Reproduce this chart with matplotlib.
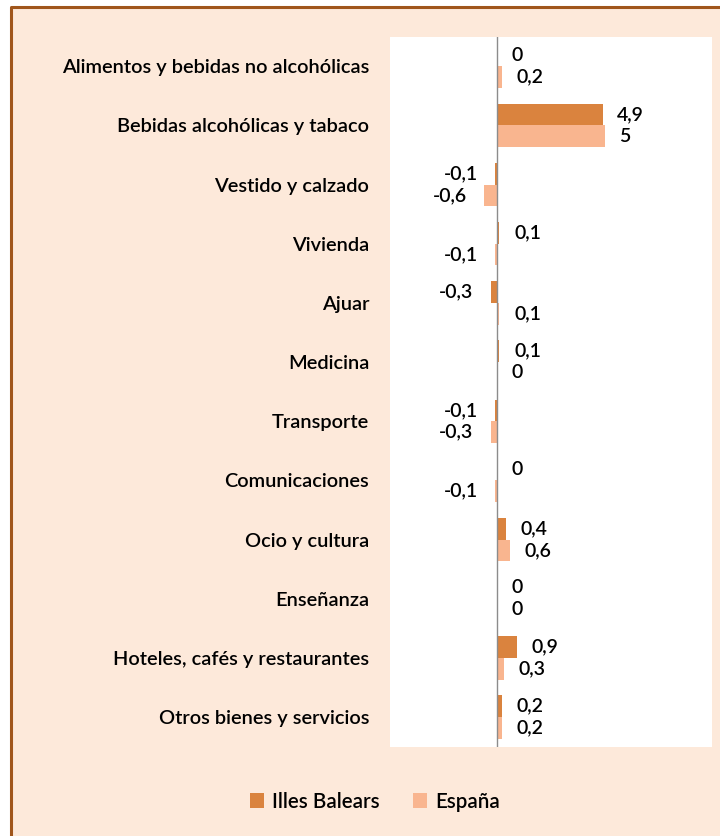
"""Variación de precios por grupos: Illes Balears frente a España."""

import matplotlib.pyplot as plt
import numpy as np
from matplotlib.patches import Rectangle
from matplotlib.lines import Line2D

categories = [
    "Alimentos y bebidas no alcohólicas",
    "Bebidas alcohólicas y tabaco",
    "Vestido y calzado",
    "Vivienda",
    "Ajuar",
    "Medicina",
    "Transporte",
    "Comunicaciones",
    "Ocio y cultura",
    "Enseñanza",
    "Hoteles, cafés y restaurantes",
    "Otros bienes y servicios",
]
balears = [0, 4.9, -0.1, 0.1, -0.3, 0.1, -0.1, 0, 0.4, 0, 0.9, 0.2]
espana = [0.2, 5, -0.6, -0.1, 0.1, 0, -0.3, -0.1, 0.6, 0, 0.3, 0.2]
series_names = ["Illes Balears", "España"]

BG = "#FDE9DA"
ORANGE = "#DA833E"
PINK = "#F9B58F"
BORDER = "#A0561C"
FONT = "Lato"

plt.rcParams["font.family"] = [FONT, "DejaVu Sans"]
plt.rcParams["font.weight"] = 600

fig = plt.figure(figsize=(7.2, 8.36), dpi=100, facecolor="white")
W, H = 720, 836

# peach panel with brown border on left and top
fig.patches.append(Rectangle((11 / W, 0), 1, 1 - 7 / H, transform=fig.transFigure,
                             facecolor=BG, edgecolor="none", zorder=-10))
fig.lines.append(Line2D([11 / W, 11 / W, 1], [0, 1 - 7 / H, 1 - 7 / H],
                        transform=fig.transFigure, color=BORDER, lw=2.2))

ax = fig.add_axes([390 / W, 1 - 746.7 / H, (712 - 390) / W, (746.7 - 36.7) / H])
ax.set_facecolor("white")

y = np.arange(len(categories))
h = 0.366
b1 = ax.barh(y - h / 2, balears, height=h, color=ORANGE, label=series_names[0])
b2 = ax.barh(y + h / 2, espana, height=h, color=PINK, label=series_names[1])

ax.set_xlim(-5, 10)
ax.set_ylim(len(categories) - 0.5, -0.5)
ax.axvline(0, color="#8C8C8C", lw=1)

for bars, vals in ((b1, balears), (b2, espana)):
    for bar, v in zip(bars, vals):
        txt = f"{v:g}".replace(".", ",")
        off = 10.5 if v >= 0 else -12.5
        ax.annotate(txt, (v, bar.get_y() + bar.get_height() / 2),
                    xytext=(off, 0), textcoords="offset points",
                    ha="left" if v >= 0 else "right", va="center",
                    fontsize=14, color="black")

ax.set_xticks([])
ax.set_yticks(y)
ax.set_yticklabels(categories, fontsize=14.4)
ax.tick_params(axis="y", length=0, pad=15)
for s in ax.spines.values():
    s.set_visible(False)

fig.legend(handles=[b1, b2], labels=series_names, loc="center",
           bbox_to_anchor=(375 / W, 1 - 801.7 / H), ncol=2, frameon=False,
           fontsize=14.8, handlelength=0.7, handleheight=0.7,
           handletextpad=0.4, columnspacing=1.6)

fig.savefig("out.png", dpi=100, facecolor=fig.get_facecolor())
